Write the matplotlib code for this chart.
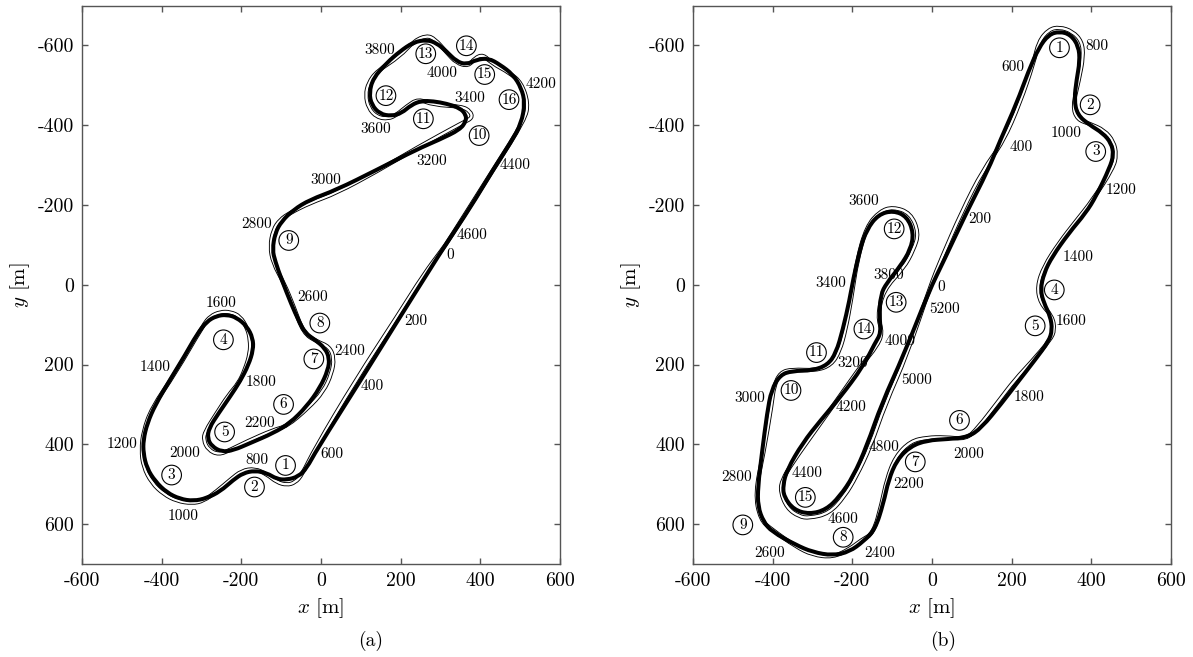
import matplotlib
matplotlib.use('Agg')
import matplotlib.pyplot as plt
from matplotlib.path import Path
from matplotlib.patches import PathPatch

plt.rcParams['font.family'] = ['cmr10', 'DejaVu Serif']
plt.rcParams['mathtext.fontset'] = 'cm'
plt.rcParams['axes.unicode_minus'] = False
plt.rcParams['axes.formatter.use_mathtext'] = True

# circuito (a): linea de carrera
race_a_x = [315, 265, 202, 98, -11, -36, -57, -86, -111, -136, -166, -195, -220, -253, -287, -320,
            -354, -387, -416, -437, -446, -446, -436, -416, -379, -341, -312, -287, -262, -237, -212,
            -186, -171, -170, -182, -203, -228, -257, -281, -285, -274, -249, -220, -178, -120, -78,
            -36, -3, 18, 21, 10, -15, -40, -57, -74, -99, -115, -122, -115, -99, -69, -28, 39, 140,
            240, 298, 349, 364, 364, 349, 315, 282, 252, 227, 202, 177, 148, 127, 121, 131, 165, 198,
            232, 265, 290, 315, 340, 365, 390, 420, 449, 482, 503, 512, 503, 478, 432, 374, 315]
race_a_y = [-104, -25, 75, 242, 414, 460, 481, 489, 487, 472, 466, 472, 489, 518, 535, 542,
            537, 521, 493, 460, 422, 389, 347, 301, 238, 176, 125, 92, 78, 75, 82,
            104, 134, 163, 201, 242, 280, 322, 359, 385, 405, 419, 415, 397, 372, 347,
            305, 259, 213, 184, 159, 138, 121, 88, 50, -13, -59, -88, -130, -159, -188, -213, -238, -288,
            -339, -364, -389, -410, -426, -443, -454, -460, -461, -451, -430, -423, -428, -451, -481, -518, -556, -585,
            -608, -614, -606, -585, -560, -552, -564, -568, -552, -527, -493, -456, -405, -359, -288, -192, -104]

# circuito (a): pista
track_a_x = [307, 257, 194, 85, -15, -48, -65, -86, -111, -136, -166, -199, -228, -262, -295, -324,
             -362, -395, -425, -446, -451, -446, -425, -366, -295, -278, -253, -228, -203, -185, -178,
             -178, -191, -207, -232, -262, -291, -295, -283, -257, -228, -186, -120, -86, -32, 6, 27,
             33, 21, -11, -44, -69, -93, -120, -128, -120, -103, -78, -28, 39, 140, 240, 357, 380, 375,
             353, 282, 244, 215, 190, 169, 140, 119, 112, 119, 140, 198, 232, 265, 286, 315, 340, 370,
             386, 407, 428, 474, 503, 520, 512, 432, 319, 307]
track_a_y = [-92, -25, 75, 242, 410, 477, 496, 502, 495, 475, 461, 466, 489, 518, 542, 548,
             542, 525, 497, 456, 414, 368, 309, 222, 100, 79, 68, 68, 79, 109, 138,
             171, 213, 247, 276, 322, 368, 389, 414, 426, 414, 393, 364, 355, 309, 268, 222,
             184, 155, 142, 121, 54, -4, -54, -96, -138, -163, -180, -205, -230, -284, -343, -407, -418, -435,
             -447, -451, -466, -447, -426, -416, -420, -443, -476, -506, -535, -573, -610, -625, -616, -583, -556, -548,
             -568, -577, -556, -531, -506, -456, -414, -288, -109, -92]

# circuito (b): linea de carrera
race_b_x = [-8, 31, 86, 141, 170, 213, 242, 268, 293, 320, 348, 368, 371, 363, 357, 365, 395, 429, 450,
            456, 446, 412, 386, 344, 302, 281, 272, 281, 297, 302, 293, 259, 217, 175, 124, 90, 39, -12,
            -54, -88, -109, -122, -143, -173, -207, -249, -300, -342, -402, -423, -437, -437, -427, -414,
            -403, -381, -351, -300, -262, -241, -224, -207, -198, -181, -164, -135, -97, -63, -46, -54,
            -80, -114, -129, -132, -128, -143, -173, -232, -279, -325, -364, -374, -372, -347, -308, -266,
            -232, -198, -164, -126, -71, -8]
race_b_y = [17, -63, -180, -288, -359, -456, -535, -594, -627, -635, -627, -598, -560, -514, -464, -426, -401, -380, -355,
            -326, -293, -222, -180, -130, -71, -29, 13, 46, 79, 113, 142, 188, 242, 297, 359, 382, 387, 390,
            405, 439, 489, 548, 614, 644, 669, 679, 670, 652, 619, 594, 556, 506, 422, 322,
            263, 226, 216, 215, 201, 171, 113, 38, -13, -88, -138, -176, -186, -171, -130, -88,
            -46, -4, 25, 79, 121, 146, 205, 284, 339, 397, 464, 502, 531, 564, 575, 564,
            531, 481, 405, 297, 176, 17]

# circuito (b): pista
track_b_x = [-3, 24, 75, 128, 179, 221, 255, 268, 293, 320, 353, 376, 380, 369, 353, 365, 395, 433, 456, 463,
             455, 404, 361, 319, 281, 264, 272, 302, 308, 297, 251, 208, 166, 115, 86, 31, -12, -54, -92,
             -114, -126, -147, -177, -207, -249, -300, -342, -402, -431, -444, -423, -402, -397, -381, -351,
             -292, -253, -232, -217, -203, -188, -164, -131, -98, -54, -33, -46, -71, -122, -137, -124, -139,
             -173, -232, -292, -351, -376, -381, -364, -334, -308, -258, -220, -190, -154, -118, -63, -3]
track_b_y = [0, -67, -184, -288, -359, -456, -556, -610, -640, -646, -635, -610, -573, -514, -447, -414, -404, -387, -359, -326,
             -293, -213, -159, -105, -46, 4, 46, 79, 113, 138, 192, 238, 293, 359, 387, 382, 383, 392, 431,
             489, 548, 623, 640, 663, 683, 677, 656, 614, 589, 522, 422, 297, 255, 220, 212,
             215, 201, 167, 113, 38, -63, -146, -184, -195, -180, -130, -88, -42, 13, 79, 121, 155,
             196, 280, 364, 447, 489, 518, 560, 581, 585, 573, 531, 481, 405, 301, 176, 0]

# etiquetas de distancia
dist_a = [0, 200, 400, 600, 800, 1000, 1200, 1400, 1600, 1800, 2000, 2200, 2400, 2600, 2800, 3000, 3200, 3400, 3600,
          3800, 4000, 4200, 4400, 4600]
dist_a_x = [324, 238, 129, 28, -161, -345, -500, -416, -251, -151, -341, -155, 73, -22, -161, 13, 279, 374, 138,
            148, 303, 552, 488, 378]
dist_a_y = [-75, 91, 255, 425, 440, 580, 400, 206, 45, 245, 421, 346, 166, 31, -153, -263, -309, -469, -389,
            -589, -530, -503, -300, -125]

dist_b = [0, 200, 400, 600, 800, 1000, 1200, 1400, 1600, 1800, 2000, 2200, 2400, 2600, 2800, 3000, 3200, 3400, 3600,
          3800, 4000, 4200, 4400, 4600, 4800, 5000, 5200]
dist_b_x = [24, 121, 224, 203, 414, 337, 475, 367, 350, 244, 92, -58, -131, -408, -491, -458, -200, -255, -172,
            -109, -81, -203, -314, -223, -120, -38, 32]
dist_b_y = [7, -164, -344, -545, -598, -381, -237, -70, 92, 281, 424, 501, 674, 673, 482, 285, 196, -4, -209,
            -24, 141, 306, 473, 587, 408, 240, 60]

# curvas numeradas
turn_a_x = [-89, -167, -375, -245, -242, -94, -18, -3, -81, 397, 257, 163, 263, 365, 411, 472]
turn_a_y = [453, 507, 477, 138, 369, 300, 186, 96, -111, -374, -416, -474, -579, -599, -527, -464]
turn_b_x = [320, 397, 411, 307, 259, 69, -42, -223, -475, -354, -290, -95, -90, -171, -318]
turn_b_y = [-594, -451, -334, 13, 103, 340, 444, 633, 602, 265, 170, -140, 44, 111, 533]

ticks_x = [-600, -400, -200, 0, 200, 400, 600]
ticks_y = [-600, -400, -200, 0, 200, 400, 600]
gris = '#555555'


def trazado(x, y):
    # los puntos leidos hacen de control de curvas de Bezier, asi no se ven esquinas
    pts = list(zip(x, y))[:-1]
    n = len(pts)
    med = [((pts[i][0] + pts[(i + 1) % n][0]) / 2, (pts[i][1] + pts[(i + 1) % n][1]) / 2) for i in range(n)]
    verts = [med[-1]]
    codes = [Path.MOVETO]
    for i in range(n):
        verts += [pts[i], med[i]]
        codes += [Path.CURVE3, Path.CURVE3]
    return Path(verts, codes)


def dibuja(ax, race_x, race_y, track_x, track_y, dist, dist_x, dist_y, turn_x, turn_y):
    # pista: linea negra con una blanca encima para que quede doble
    ax.add_patch(PathPatch(trazado(track_x, track_y), fc='none', ec='black', lw=3.0, zorder=2))
    ax.add_patch(PathPatch(trazado(track_x, track_y), fc='none', ec='white', lw=1.7, zorder=3))
    ax.add_patch(PathPatch(trazado(race_x, race_y), fc='none', ec='black', lw=2.9, zorder=4))
    for d, x, y in zip(dist, dist_x, dist_y):
        ax.text(x, y, str(d), fontsize=11, ha='center', va='center', zorder=6)
    ax.scatter(turn_x, turn_y, s=200, facecolors='none', edgecolors='black', linewidths=0.8, zorder=5)
    for i, (x, y) in enumerate(zip(turn_x, turn_y)):
        ax.text(x, y, str(i + 1), fontsize=11, ha='center', va='center', zorder=6)
    ax.set_xlim(-600, 600)
    ax.set_ylim(700, -700)
    ax.set_xticks(ticks_x)
    ax.set_yticks(ticks_y)
    ax.set_xticklabels([str(t) for t in ticks_x])
    ax.set_yticklabels([str(t) for t in ticks_y])
    ax.tick_params(direction='in', top=True, right=True, length=4.5, width=1, color=gris,
                   labelsize=14.3, pad=6)
    for s in ax.spines.values():
        s.set_color(gris)
        s.set_linewidth(1.0)
    ax.set_xlabel(r'$x$ [m]', fontsize=15, labelpad=4)
    ax.set_ylabel(r'$y$ [m]', fontsize=15, labelpad=4)


fig = plt.figure(figsize=(11.93, 6.57), dpi=100)
W, H = 1193.0, 657.0
ax1 = fig.add_axes([82 / W, 1 - 564 / H, 478 / W, 558.5 / H])
ax2 = fig.add_axes([693 / W, 1 - 564 / H, 478 / W, 558.5 / H])
dibuja(ax1, race_a_x, race_a_y, track_a_x, track_a_y, dist_a, dist_a_x, dist_a_y, turn_a_x, turn_a_y)
dibuja(ax2, race_b_x, race_b_y, track_b_x, track_b_y, dist_b, dist_b_x, dist_b_y, turn_b_x, turn_b_y)
fig.text(371 / W, 1 - 641 / H, '(a)', fontsize=14, ha='center', va='center')
fig.text(943 / W, 1 - 641 / H, '(b)', fontsize=14, ha='center', va='center')
fig.savefig('out.png', dpi=100)
